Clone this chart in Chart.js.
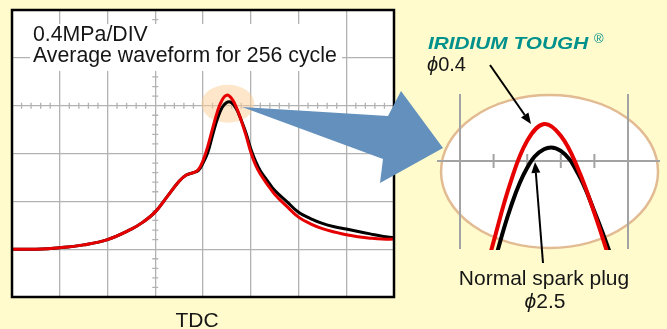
<!DOCTYPE html>
<html>
<head>
<meta charset="utf-8">
<script src="https://cdn.jsdelivr.net/npm/chart.js@4.4.0/dist/chart.umd.min.js"></script>
<style>
  html, body { margin: 0; padding: 0; background: #fffbcc; }
  #wrap { position: relative; width: 667px; height: 329px; overflow: hidden; font-family: "Liberation Sans", Arial, sans-serif; color: #161616; }
  #wrap canvas { position: absolute; left: 0; top: 0; }
  .lbl { position: absolute; white-space: nowrap; font-size: 21px; line-height: 21px; }
  .center { transform: translateX(-50%); }
</style>
</head>
<body>
<div id="wrap">
  <canvas id="scope" width="667" height="329"></canvas>
  <canvas id="zoomed" width="667" height="329"></canvas>

  <div class="lbl" style="left:30px;top:24px;width:306px;padding:0 3px 5px 3px;background:#fff;font-size:21.3px;">0.4MPa/DIV<br>Average waveform for 256 cycle</div>
  <div class="lbl center" style="left:197px;top:309px;">TDC</div>

  <div class="lbl" style="left:428px;top:35px;font-size:16.5px;line-height:16px;font-weight:bold;font-style:italic;color:#00918c;transform:scaleX(1.26);transform-origin:left top;">IRIDIUM TOUGH</div>
  <div class="lbl" style="left:594px;top:32px;font-size:13px;line-height:13px;color:#00918c;">®</div>
  <div class="lbl" style="left:427px;top:54px;font-size:20px;line-height:20px;"><i>ϕ</i>0.4</div>
  <div class="lbl center" style="left:544px;top:267px;">Normal spark plug</div>
  <div class="lbl center" style="left:545px;top:290px;"><i>ϕ</i>2.5</div>
</div>

<script>
// crank position in scope divisions (8 across), pressure in divisions (0.4MPa/DIV)
const xDiv = [0, 0.5, 1, 1.5, 2, 2.5, 2.75, 3, 3.25, 3.5, 3.65, 3.8, 3.9, 4.0, 4.1, 4.2, 4.3, 4.4, 4.5, 4.6, 4.7, 4.8, 4.9, 5.0, 5.1, 5.2, 5.35, 5.5, 5.75, 6, 6.25, 6.5, 6.75, 7, 7.25, 7.5, 7.75, 8];
const iridiumTough = [1.00, 1.00, 1.03, 1.09, 1.20, 1.42, 1.57, 1.78, 2.10, 2.42, 2.55, 2.60, 2.66, 2.85, 3.15, 3.52, 3.87, 4.12, 4.22, 4.15, 3.96, 3.69, 3.38, 3.03, 2.76, 2.57, 2.35, 2.15, 1.90, 1.67, 1.53, 1.43, 1.36, 1.30, 1.26, 1.23, 1.21, 1.21];
const normalPlug = [1.00, 1.00, 1.03, 1.09, 1.20, 1.42, 1.57, 1.78, 2.10, 2.42, 2.55, 2.60, 2.64, 2.80, 3.02, 3.38, 3.72, 3.96, 4.07, 4.06, 3.93, 3.70, 3.43, 3.10, 2.84, 2.64, 2.43, 2.23, 2.00, 1.77, 1.64, 1.54, 1.47, 1.42, 1.37, 1.32, 1.27, 1.24];

const GRID = '#b2b2b2';

function pts(vals) {
    return xDiv.map((x, i) => ({ x: x, y: vals[i] }));
}

function datasets(width) {
    return [
        { label: 'IRIDIUM TOUGH φ0.4', data: pts(iridiumTough), borderColor: '#e60000', borderWidth: width, tension: 0.4, pointRadius: 0 },
        { label: 'Normal spark plug φ2.5', data: pts(normalPlug), borderColor: '#000', borderWidth: width, tension: 0.4, pointRadius: 0 }
    ];
}

// scope screen: white face, minor ticks on the centre axes, highlight round the peak, frame
const scopeFace = {
    id: 'scopeFace',
    beforeDraw(chart) {
        const { ctx, chartArea: a } = chart;
        ctx.save();
        ctx.fillStyle = '#fff';
        ctx.fillRect(a.left, a.top, a.right - a.left, a.bottom - a.top);
        ctx.restore();
    },
    beforeDatasetsDraw(chart) {
        const { ctx, scales: { x, y } } = chart;
        ctx.save();
        ctx.strokeStyle = GRID;
        ctx.lineWidth = 1.3;
        ctx.beginPath();
        const y4 = y.getPixelForValue(4);
        for (let k = 1; k < 40; k++) {
            if (k % 5 === 0) continue;
            const px = x.getPixelForValue(k * 0.2);
            ctx.moveTo(px, y4 - 3); ctx.lineTo(px, y4 + 3);
        }
        const x3 = x.getPixelForValue(3);
        for (let k = 1; k < 30; k++) {
            if (k % 5 === 0) continue;
            const py = y.getPixelForValue(k * 0.2);
            ctx.moveTo(x3 - 3, py); ctx.lineTo(x3 + 3, py);
        }
        ctx.stroke();

        // peak highlight
        const cx = x.getPixelForValue(4.52), cy = y.getPixelForValue(4.04);
        ctx.fillStyle = 'rgba(251, 205, 150, 0.5)';
        ctx.beginPath();
        ctx.ellipse(cx, cy, 26.5, 19, 0, 0, Math.PI * 2);
        ctx.fill();
        ctx.restore();
    },
    afterDatasetsDraw(chart) {
        const { ctx, chartArea: a } = chart;
        ctx.save();
        ctx.strokeStyle = '#000';
        ctx.lineWidth = 2.5;
        ctx.strokeRect(a.left, a.top, a.right - a.left, a.bottom - a.top);
        ctx.restore();
    }
};

new Chart(document.getElementById('scope'), {
    type: 'line',
    data: { datasets: datasets(3) },
    options: {
        responsive: false,
        animation: false,
        layout: { padding: { left: 12, top: 10, right: 273, bottom: 32 } },
        plugins: { legend: { display: false }, tooltip: { enabled: false } },
        scales: {
            x: { type: 'linear', min: 0, max: 8, ticks: { display: false, stepSize: 1 }, grid: { color: GRID, lineWidth: 1.3, drawTicks: false }, border: { display: false } },
            y: { type: 'linear', min: 0, max: 6, ticks: { display: false, stepSize: 1 }, grid: { color: GRID, lineWidth: 1.3, drawTicks: false }, border: { display: false } }
        }
    },
    plugins: [scopeFace]
});

function arrowLine(ctx, x1, y1, x2, y2) {
    const ang = Math.atan2(y2 - y1, x2 - x1);
    const len = 11, half = 4.5;
    const bx = x2 - len * Math.cos(ang), by = y2 - len * Math.sin(ang);
    ctx.beginPath();
    ctx.moveTo(x1, y1);
    ctx.lineTo(bx, by);
    ctx.stroke();
    ctx.beginPath();
    ctx.moveTo(x2, y2);
    ctx.lineTo(bx + half * Math.sin(ang), by - half * Math.cos(ang));
    ctx.lineTo(bx - half * Math.sin(ang), by + half * Math.cos(ang));
    ctx.closePath();
    ctx.fill();
}

// magnified view of the peak
const lens = {
    id: 'lens',
    beforeDatasetsDraw(chart) {
        const { ctx, chartArea: a, scales: { x, y } } = chart;
        ctx.save();
        ctx.beginPath();
        ctx.ellipse(x.getPixelForValue(4.533), y.getPixelForValue(3.9375), 108.5, 76.5, 0, 0, Math.PI * 2);
        ctx.fillStyle = '#fff';
        ctx.fill();
        ctx.strokeStyle = '#e2bb93';
        ctx.lineWidth = 2.5;
        ctx.stroke();

        ctx.strokeStyle = '#a3a3a3';
        ctx.lineWidth = 2;
        ctx.beginPath();
        [4, 5].forEach(v => {
            const px = x.getPixelForValue(v);
            ctx.moveTo(px, a.top + 2); ctx.lineTo(px, a.bottom - 1);
        });
        const y4 = y.getPixelForValue(4);
        ctx.moveTo(a.left - 4, y4); ctx.lineTo(a.right + 2, y4);
        [4.2, 4.4, 4.6, 4.8].forEach(v => {
            const px = x.getPixelForValue(v);
            ctx.moveTo(px, y4 - 7); ctx.lineTo(px, y4 + 7);
        });
        ctx.stroke();
        ctx.restore();
    },
    afterDraw(chart) {
        const { ctx } = chart;
        ctx.save();
        // blue pointer from the scope highlight to the lens
        ctx.fillStyle = '#6390bc';
        ctx.beginPath();
        ctx.moveTo(242, 107);
        ctx.lineTo(388, 116);
        ctx.lineTo(401, 91);
        ctx.lineTo(443, 148);
        ctx.lineTo(380, 183);
        ctx.lineTo(383, 159);
        ctx.closePath();
        ctx.fill();

        ctx.strokeStyle = '#000';
        ctx.fillStyle = '#000';
        ctx.lineWidth = 2;
        arrowLine(ctx, 490, 65, 531, 124);
        arrowLine(ctx, 543, 263, 535, 162);
        ctx.restore();
    }
};

new Chart(document.getElementById('zoomed'), {
    type: 'line',
    data: { datasets: datasets(4) },
    options: {
        responsive: false,
        animation: false,
        layout: { padding: { left: 441, top: 92, right: 9, bottom: 79 } },
        plugins: { legend: { display: false }, tooltip: { enabled: false } },
        scales: {
            x: { type: 'linear', display: false, min: 4 + (441 - 460) / 168, max: 4 + (658 - 460) / 168 },
            y: { type: 'linear', display: false, min: 4 - (250 - 161) / 168, max: 4 + (161 - 92) / 168 }
        }
    },
    plugins: [lens]
});
</script>
</body>
</html>
